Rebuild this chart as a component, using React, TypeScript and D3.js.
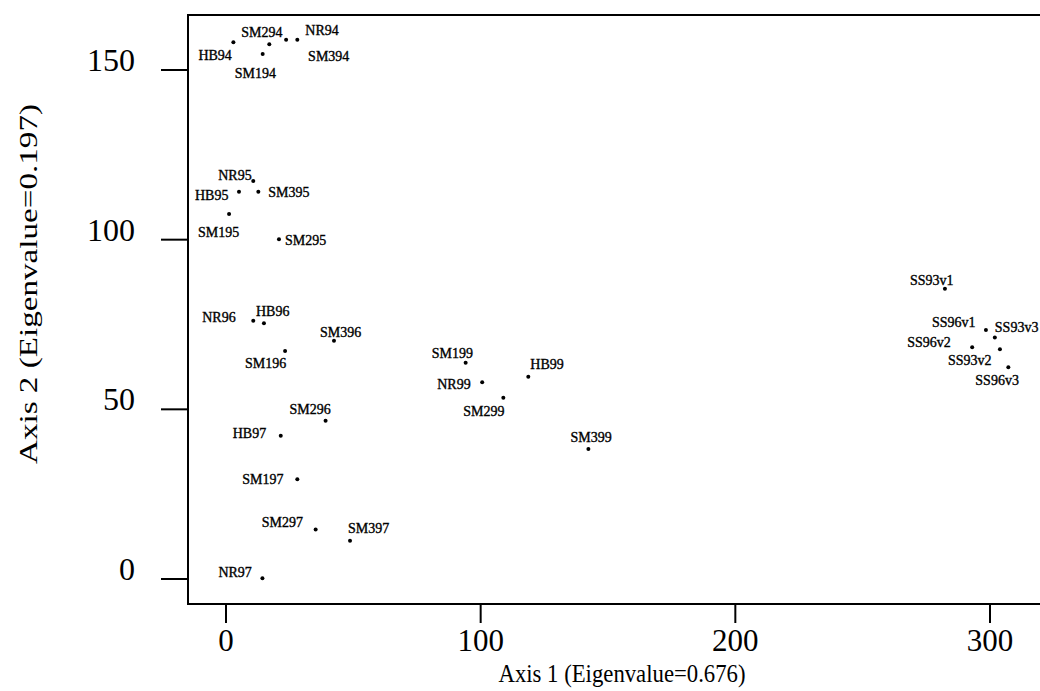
import React from "react";
import * as d3 from "d3";

// ---- data ----
const sites: string[] = [
  "HB94", "SM294", "NR94", "SM394", "SM194",
  "NR95", "HB95", "SM395", "SM195", "SM295",
  "NR96", "HB96", "SM396", "SM196",
  "SM296", "HB97", "SM197", "SM297", "SM397", "NR97",
  "SM199", "NR99", "SM299", "HB99", "SM399",
  "SS93v1", "SS96v1", "SS93v3", "SS96v2", "SS93v2", "SS96v3",
];
const axis1: number[] = [
  2.9, 17.0, 28.0, 23.6, 14.4,
  10.7, 5.1, 12.7, 1.2, 20.8,
  10.7, 14.9, 42.4, 23.2,
  39.1, 21.5, 28.0, 35.2, 48.7, 14.3,
  94.1, 100.6, 108.9, 118.7, 142.3,
  282.3, 298.4, 301.9, 293.0, 303.9, 307.2,
];
const axis2: number[] = [
  158.2, 157.6, 158.9, 158.9, 154.7,
  117.3, 114.1, 114.1, 107.6, 100.1,
  76.1, 75.4, 70.2, 67.2,
  46.6, 42.2, 29.4, 14.6, 11.3, 0.2,
  63.7, 58.0, 53.4, 59.6, 38.3,
  85.5, 73.4, 71.2, 68.3, 67.7, 62.4,
];
const xTicks: number[] = [0, 100, 200, 300];
const yTicks: number[] = [0, 50, 100, 150];
const xTitle = "Axis 1 (Eigenvalue=0.676)";
const yTitle = "Axis 2 (Eigenvalue=0.197)";

// label placement (pixel offsets of label start/baseline from the dot)
const labelOffset: Record<string, [number, number]> = {
  HB94: [-35, 18], SM294: [-28, -7], NR94: [8, -5], SM394: [22, 21], SM194: [-28, 24],
  NR95: [-35, -1], HB95: [-44, 8], SM395: [10, 5], SM195: [-31, 23], SM295: [6, 6],
  NR96: [-51, 1], HB96: [-8, -7], SM396: [-14, -4], SM196: [-40, 17],
  SM296: [-36, -7], HB97: [-48, 2], SM197: [-55, 5], SM297: [-54, -2], SM397: [-2, -8], NR97: [-44, -1],
  SM199: [-34, -5], NR99: [-45, 7], SM299: [-40, 18], HB99: [2, -8], SM399: [-18, -7],
  SS93v1: [-35, -4], SS96v1: [-54, -3], SS93v3: [0, -5], SS96v2: [-65, 0], SS93v2: [-52, 16], SS96v3: [-33, 18],
};

const W = 1040;
const H = 691;
const frame = { left: 188, top: 15, bottom: 604, right: 1060 };

export default function App() {
  const x = d3.scaleLinear().domain([0, 300]).range([226, 990]);
  const y = d3.scaleLinear().domain([0, 150]).range([579, 70]);
  const font = "'Liberation Serif', 'Times New Roman', serif";

  return (
    <svg
      width={W}
      height={H}
      viewBox={`0 0 ${W} ${H}`}
      style={{ position: "absolute", left: 0, top: 0, background: "#fff" }}
    >
      <rect x={0} y={0} width={W} height={H} fill="#fff" />
      {/* frame */}
      <rect
        x={frame.left}
        y={frame.top}
        width={frame.right - frame.left}
        height={frame.bottom - frame.top}
        fill="none"
        stroke="#000"
        strokeWidth={2}
      />
      {/* y ticks */}
      {yTicks.map((t) => (
        <g key={"y" + t}>
          <line x1={161} x2={frame.left} y1={y(t)} y2={y(t)} stroke="#000" strokeWidth={2} />
          <text
            x={135}
            y={y(t) + 1}
            textAnchor="end"
            fontFamily={font}
            fontSize={32}
            fill="#000"
          >
            {t}
          </text>
        </g>
      ))}
      {/* x ticks */}
      {xTicks.map((t) => (
        <g key={"x" + t}>
          <line x1={x(t)} x2={x(t)} y1={frame.bottom} y2={623} stroke="#000" strokeWidth={2} />
          <text
            x={x(t)}
            y={651}
            textAnchor="middle"
            fontFamily={font}
            fontSize={31}
            fill="#000"
          >
            {t}
          </text>
        </g>
      ))}
      {/* axis titles */}
      <text
        x={622}
        y={682}
        textAnchor="middle"
        fontFamily={font}
        fontSize={25}
        textLength={247}
        lengthAdjust="spacingAndGlyphs"
        fill="#000"
      >
        {xTitle}
      </text>
      <text
        transform={`translate(37,284) rotate(-90)`}
        textAnchor="middle"
        fontFamily={font}
        fontSize={26}
        textLength={360}
        lengthAdjust="spacingAndGlyphs"
        fill="#000"
      >
        {yTitle}
      </text>
      {/* points */}
      {sites.map((s, i) => {
        const px = x(axis1[i]);
        const py = y(axis2[i]);
        const [dx, dy] = labelOffset[s] || [4, -4];
        return (
          <g key={s}>
            <circle cx={px} cy={py} r={2} fill="#000" />
            <text
              x={px + dx}
              y={py + dy}
              fontFamily={font}
              fontSize={14}
              fill="#000"
              stroke="#000"
              strokeWidth={0.35}
            >
              {s}
            </text>
          </g>
        );
      })}
    </svg>
  );
}
